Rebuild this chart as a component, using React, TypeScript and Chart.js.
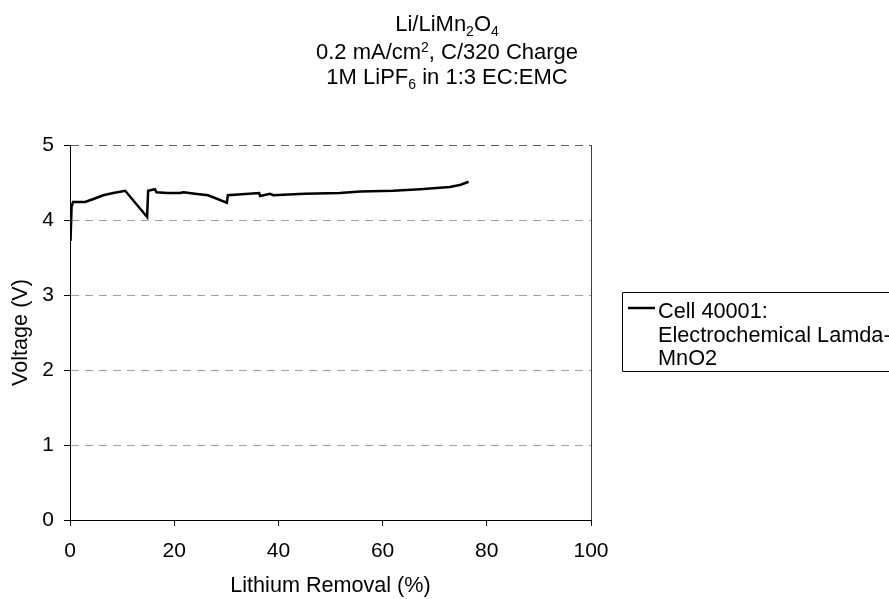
import React, { useEffect, useRef } from 'react';
import { Chart, registerables } from 'chart.js';

Chart.register(...registerables);

// Li removal (%) vs cell voltage
const removalPct = [
  0.1, 0.3, 0.6, 1.3, 2.9, 4.5, 6.4, 8.3, 10.6, 14.8, 15.0, 16.3, 16.6, 18.6, 21.1, 21.8,
  24.0, 26.5, 30.1, 30.3, 36.3, 36.5, 38.4, 39.0, 45.0, 51.8, 55.7, 62.0, 67.2, 72.9, 75.0, 76.5,
];
const voltage = [
  3.72, 4.18, 4.24, 4.24, 4.24, 4.28, 4.33, 4.36, 4.39, 4.04, 4.39, 4.41, 4.37, 4.36, 4.36, 4.37,
  4.35, 4.33, 4.23, 4.33, 4.36, 4.32, 4.35, 4.33, 4.35, 4.36, 4.38, 4.39, 4.41, 4.44, 4.47, 4.51,
];

const xTicks = [0, 20, 40, 60, 80, 100];
const yTicks = [0, 1, 2, 3, 4, 5];

const xTitle = 'Lithium Removal (%)';
const yTitle = 'Voltage (V)';
const legendLines = ['Cell 40001:', 'Electrochemical Lamda-', 'MnO2'];

type Seg = { t: string; s?: 'sub' | 'sup' };
const titleLines: Seg[][] = [
  [{ t: 'Li/LiMn' }, { t: '2', s: 'sub' }, { t: 'O' }, { t: '4', s: 'sub' }],
  [{ t: '0.2 mA/cm' }, { t: '2', s: 'sup' }, { t: ', C/320 Charge' }],
  [{ t: '1M LiPF' }, { t: '6', s: 'sub' }, { t: ' in 1:3 EC:EMC' }],
];

const FAMILY = "'Liberation Sans', Arial, sans-serif";

const titlePlugin = {
  id: 'richTitle',
  afterDraw(chart: Chart) {
    const { ctx } = chart;
    const baselines = [31, 59, 84];
    ctx.save();
    ctx.fillStyle = '#000';
    ctx.textBaseline = 'alphabetic';
    ctx.textAlign = 'left';
    titleLines.forEach((line, i) => {
      const fontOf = (seg: Seg) => `${seg.s ? 14 : 22}px ${FAMILY}`;
      const widths = line.map((seg) => {
        ctx.font = fontOf(seg);
        return ctx.measureText(seg.t).width;
      });
      let x = 447 - widths.reduce((a, b) => a + b, 0) / 2;
      line.forEach((seg, j) => {
        ctx.font = fontOf(seg);
        const dy = seg.s === 'sub' ? 4.5 : seg.s === 'sup' ? -7 : 0;
        ctx.fillText(seg.t, x, baselines[i] + dy);
        x += widths[j];
      });
    });
    ctx.restore();
  },
};

const legendPlugin = {
  id: 'boxLegend',
  afterDraw(chart: Chart) {
    const { ctx } = chart;
    ctx.save();
    ctx.strokeStyle = '#000';
    ctx.lineWidth = 1;
    // box runs off the right edge of the canvas, like the reference
    ctx.beginPath();
    ctx.moveTo(940, 292.5);
    ctx.lineTo(622.5, 292.5);
    ctx.lineTo(622.5, 371.5);
    ctx.lineTo(940, 371.5);
    ctx.stroke();
    ctx.lineWidth = 2.5;
    ctx.beginPath();
    ctx.moveTo(628, 308);
    ctx.lineTo(655, 308);
    ctx.stroke();
    ctx.fillStyle = '#000';
    ctx.font = `21.7px ${FAMILY}`;
    ctx.textBaseline = 'alphabetic';
    const baselines = [318, 342, 365];
    legendLines.forEach((txt, i) => ctx.fillText(txt, 658, baselines[i]));
    ctx.restore();
  },
};

const App: React.FC = () => {
  const canvasRef = useRef<HTMLCanvasElement | null>(null);

  useEffect(() => {
    if (!canvasRef.current) return;
    const chart = new Chart(canvasRef.current, {
      type: 'line',
      data: {
        datasets: [
          {
            label: legendLines.join(' '),
            data: removalPct.map((x, i) => ({ x, y: voltage[i] })),
            borderColor: '#000',
            borderWidth: 2.5,
            pointRadius: 0,
            tension: 0,
            fill: false,
          },
        ],
      },
      options: {
        responsive: false,
        animation: false,
        layout: { padding: { top: 145, left: 0, right: 298, bottom: 0 } },
        plugins: {
          legend: { display: false },
          title: { display: false },
          tooltip: { enabled: false },
        },
        scales: {
          x: {
            type: 'linear',
            min: xTicks[0],
            max: xTicks[xTicks.length - 1],
            afterFit: (s: any) => {
              s.height = 79;
            },
            ticks: {
              stepSize: xTicks[1] - xTicks[0],
              padding: 13,
              color: '#000',
              font: { family: FAMILY, size: 21 },
            },
            grid: {
              color: (c: any) => (c.tick && c.tick.value === 100 ? '#404040' : 'rgba(0,0,0,0)'),
              tickColor: '#000',
              tickLength: 6,
              lineWidth: 1,
            },
            border: { color: '#000', width: 1 },
            title: {
              display: true,
              text: xTitle,
              color: '#000',
              font: { family: FAMILY, size: 21.6 },
              padding: { top: 0, bottom: 0 },
            },
          },
          y: {
            min: yTicks[0],
            max: yTicks[yTicks.length - 1],
            afterFit: (s: any) => {
              s.width = 70;
            },
            ticks: {
              stepSize: yTicks[1] - yTicks[0],
              padding: 10,
              color: '#000',
              font: { family: FAMILY, size: 21 },
            },
            grid: {
              color: (c: any) => {
                const v = c.tick ? c.tick.value : -1;
                if (v === 0) return 'rgba(0,0,0,0)';
                return v === 5 ? '#606060' : '#a0a0a0';
              },
              tickColor: '#000',
              tickLength: 6,
              tickBorderDash: [],
              lineWidth: 1,
            },
            border: { color: '#000', width: 1, dash: [8, 6] },
            title: {
              display: true,
              text: yTitle,
              color: '#000',
              font: { family: FAMILY, size: 21.6 },
              padding: { top: 8, bottom: 0 },
            },
          },
        },
      },
      plugins: [titlePlugin, legendPlugin],
    } as any);

    return () => {
      chart.destroy();
    };
  }, []);

  return (
    <div style={{ position: 'absolute', left: 0, top: 0, width: 889, height: 599, background: '#fff' }}>
      <canvas ref={canvasRef} width={889} height={599}></canvas>
    </div>
  );
};

export default App;
